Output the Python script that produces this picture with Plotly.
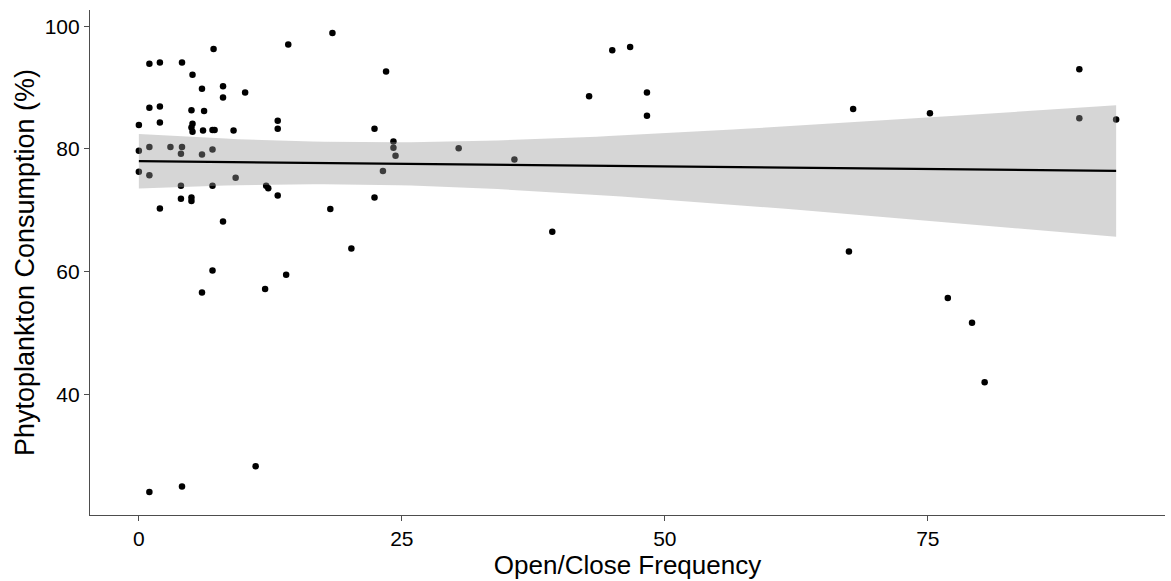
import numpy as np
import plotly.graph_objects as go

# Open/close frequency and phytoplankton consumption (%) per observation
freq = [
    7.1, 14.2, 1.0, 2.0, 4.1, 5.1, 6.0, 8.0, 8.0, 10.1,
    1.0, 2.0, 5.0, 6.2, 0.0, 2.0, 5.1, 5.0, 5.1, 6.1,
    7.0, 7.2, 9.0, 13.2, 13.2, 0.0, 1.0, 3.0, 4.1, 4.0,
    6.0, 7.0, 0.0, 1.0, 9.2, 4.0, 7.0, 12.1, 12.3, 13.2,
    4.0, 5.0, 5.0, 2.0, 8.0, 7.0, 6.0, 12.0, 14.0, 11.1,
    1.0, 4.1, 18.4, 23.5, 22.4, 24.2, 24.2, 24.4, 30.4, 35.7,
    23.2, 22.4, 18.2, 20.2, 45.0, 46.7, 42.8, 48.3, 48.3, 39.3,
    89.4, 67.9, 75.2, 89.4, 92.9, 67.5, 76.9, 79.2, 80.4,
]
consumption = [
    96.3, 97.0, 93.9, 94.1, 94.1, 92.1, 89.8, 90.2, 88.4, 89.2,
    86.7, 86.9, 86.3, 86.2, 83.9, 84.3, 84.1, 83.5, 82.8, 83.0,
    83.1, 83.1, 83.0, 84.6, 83.3, 79.7, 80.3, 80.3, 80.3, 79.2,
    79.1, 79.9, 76.3, 75.7, 75.3, 74.0, 74.0, 74.0, 73.6, 72.4,
    71.9, 72.1, 71.5, 70.3, 68.2, 60.2, 56.6, 57.2, 59.5, 28.3,
    24.1, 25.0, 98.9, 92.6, 83.3, 81.2, 80.2, 78.9, 80.1, 78.3,
    76.4, 72.1, 70.2, 63.8, 96.1, 96.6, 88.6, 89.2, 85.4, 66.5,
    93.0, 86.5, 85.8, 85.0, 84.8, 63.3, 55.7, 51.7, 42.0,
]

x = np.asarray(freq, dtype=float)
y = np.asarray(consumption, dtype=float)

# Ordinary least-squares fit with a 95% confidence band
n = len(x)
slope, intercept = np.polyfit(x, y, 1)
resid = y - (intercept + slope * x)
s2 = np.sum(resid ** 2) / (n - 2)
sxx = np.sum((x - x.mean()) ** 2)
t_crit = 1.991  # t quantile, 0.975, df = n - 2
grid = np.linspace(x.min(), x.max(), 80)
fit = intercept + slope * grid
se = np.sqrt(s2 * (1.0 / n + (grid - x.mean()) ** 2 / sxx))
upper = fit + t_crit * se
lower = fit - t_crit * se

def expanded(lo, hi, frac=0.05):
    span = hi - lo
    return [lo - frac * span, hi + frac * span]

fig = go.Figure()
fig.add_trace(go.Scatter(
    x=x, y=y, mode="markers",
    marker=dict(color="black", size=6.5, line=dict(width=0)),
    showlegend=False, hoverinfo="x+y",
))
fig.add_trace(go.Scatter(
    x=np.concatenate([grid, grid[::-1]]),
    y=np.concatenate([upper, lower[::-1]]),
    fill="toself", fillcolor="rgba(153,153,153,0.4)",
    line=dict(width=0), mode="lines", showlegend=False, hoverinfo="skip",
))
fig.add_trace(go.Scatter(
    x=grid, y=fit, mode="lines",
    line=dict(color="black", width=2.2),
    showlegend=False, hoverinfo="skip",
))

font_family = "Liberation Sans, Arial, sans-serif"
axis_common = dict(
    showline=True, linecolor="#4d4d4d", linewidth=1.2,
    ticks="outside", ticklen=5, tickcolor="#4d4d4d", tickwidth=1.2,
    showgrid=False, zeroline=False,
    tickfont=dict(family=font_family, size=21, color="black"),
)

fig.update_layout(
    width=1171, height=581,
    margin=dict(l=90, r=6, t=10, b=66),
    paper_bgcolor="white", plot_bgcolor="white",
    font=dict(family=font_family, color="black"),
    xaxis=dict(
        range=expanded(x.min(), x.max()),
        tickvals=[0, 25, 50, 75],
        title=dict(text="Open/Close Frequency",
                   font=dict(family=font_family, size=26, color="black"),
                   standoff=0),
        **axis_common,
    ),
    yaxis=dict(
        range=expanded(y.min(), y.max()),
        tickvals=[40, 60, 80, 100],
        title=dict(text="Phytoplankton Consumption (%)",
                   font=dict(family=font_family, size=27, color="black"),
                   standoff=2),
        **axis_common,
    ),
)

fig.write_html("out.html")
